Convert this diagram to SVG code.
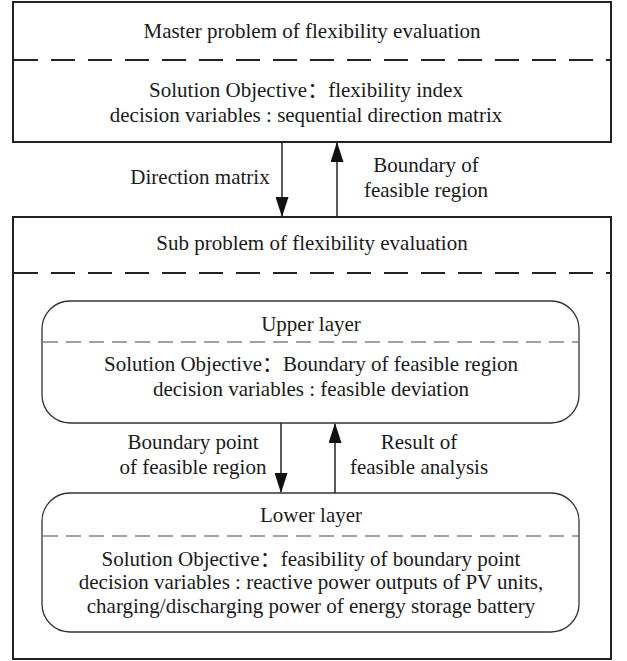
<svg xmlns="http://www.w3.org/2000/svg" width="627" height="661" viewBox="0 0 627 661">
<style>
  text { font-family: "Liberation Serif", "Noto Sans CJK SC", serif; font-size: 21px; fill: #1a1a1a; text-anchor: middle; }
  .box { fill: none; stroke: #222; stroke-width: 2; }
  .rbox { fill: none; stroke: #333; stroke-width: 1.3; }
  .dash { stroke: #222; stroke-width: 2; stroke-dasharray: 24 13; }
  .dash2 { stroke: #444; stroke-width: 1.2; stroke-dasharray: 15 8; }
  .edge { stroke: #222; stroke-width: 1.5; fill: none; }
</style>
<defs>
  <marker id="ah" markerWidth="20" markerHeight="13" refX="19" refY="6.5" orient="auto" markerUnits="userSpaceOnUse" viewBox="0 0 20 13">
    <path d="M0,0 L20,6.5 L0,13 Z" fill="#111"/>
  </marker>
</defs>
<rect width="627" height="661" fill="#fff"/>

<g id="master">
  <rect class="box" x="13" y="2" width="598" height="140"/>
  <line class="dash" x1="14" y1="60" x2="610" y2="60"/>
  <text x="312" y="38">Master problem of flexibility evaluation</text>
  <text x="306" y="97">Solution Objective：flexibility index</text>
  <text x="306" y="122">decision variables : sequential direction matrix</text>
</g>

<g id="sub">
  <rect class="box" x="13" y="217" width="598" height="442"/>
  <line class="dash" x1="14" y1="273" x2="610" y2="273"/>
  <text x="312" y="250">Sub problem of flexibility evaluation</text>
</g>

<g id="upper">
  <rect class="rbox" x="42" y="301" width="537" height="122" rx="28" ry="28"/>
  <line class="dash2" x1="43" y1="342" x2="578" y2="342"/>
  <text x="311" y="331">Upper layer</text>
  <text x="311" y="371">Solution Objective：Boundary of feasible region</text>
  <text x="311" y="396">decision variables : feasible deviation</text>
</g>

<g id="lower">
  <rect class="rbox" x="42" y="493" width="537" height="139" rx="28" ry="28"/>
  <line class="dash2" x1="43" y1="536" x2="578" y2="536"/>
  <text x="311" y="522">Lower layer</text>
  <text x="311" y="566">Solution Objective：feasibility of boundary point</text>
  <text x="311" y="589">decision variables : reactive power outputs of PV units,</text>
  <text x="311" y="613">charging/discharging power of energy storage battery</text>
</g>

<g id="connectors">
  <line class="edge" x1="282" y1="142" x2="282" y2="216" marker-end="url(#ah)"/>
  <line class="edge" x1="337" y1="217" x2="337" y2="143" marker-end="url(#ah)"/>
  <line class="edge" x1="281" y1="423" x2="281" y2="492" marker-end="url(#ah)"/>
  <line class="edge" x1="335" y1="493" x2="335" y2="424" marker-end="url(#ah)"/>
  <text x="200" y="184">Direction matrix</text>
  <text x="426" y="172">Boundary of</text>
  <text x="426" y="197">feasible region</text>
  <text x="193" y="449">Boundary point</text>
  <text x="193" y="474">of feasible region</text>
  <text x="419" y="449">Result of</text>
  <text x="419" y="474">feasible analysis</text>
</g>
</svg>
